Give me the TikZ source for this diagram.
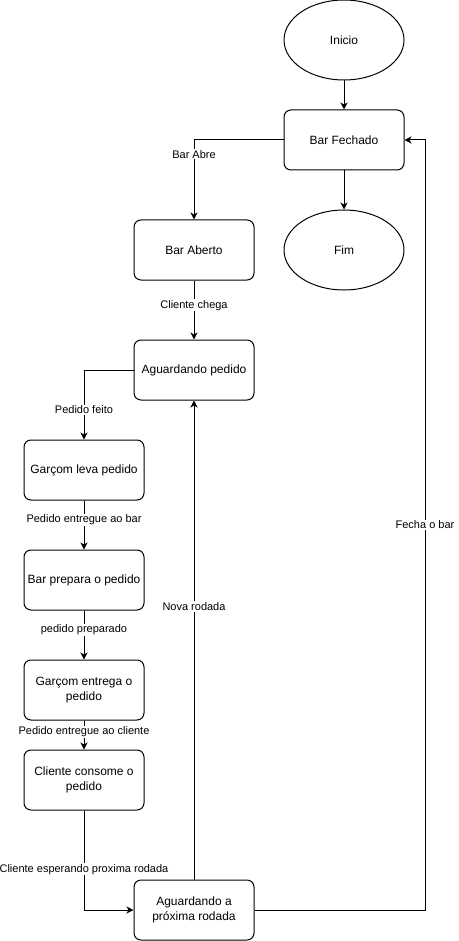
\documentclass[tikz,border=0pt]{standalone}
\usepackage{fontspec}
\setmainfont{Liberation Sans}
\usetikzlibrary{arrows.meta,shapes.geometric}
\begin{document}
\begin{tikzpicture}[x=1pt,y=-1pt,
  box/.style={draw,rounded corners=7pt,minimum width=120pt,minimum height=60pt,line width=1pt,align=center,font=\fontsize{12}{15}\selectfont,inner sep=0pt},
  oval/.style={draw,ellipse,minimum width=120pt,minimum height=80pt,line width=1pt,font=\fontsize{12}{15}\selectfont,inner sep=0pt},
  arr/.style={-{Stealth[length=7pt,width=7pt,inset=2pt]},line width=1pt},
  lbl/.style={fill=white,font=\fontsize{11}{13}\selectfont,inner sep=1pt}]
\useasboundingbox (0,0) rectangle (458,941);
\node[oval] (ini) at (344,40) {Inicio};
\node[box] (bf) at (344,140) {Bar Fechado};
\node[oval] (fim) at (344,250) {Fim};
\node[box] (ba) at (194,250) {Bar Aberto};
\node[box] (ap) at (194,370) {Aguardando pedido};
\node[box] (gl) at (84,470) {Garçom leva pedido};
\node[box] (bp) at (84,580) {Bar prepara o pedido};
\node[box] (ge) at (84,690) {Garçom entrega o\\pedido};
\node[box] (cc) at (84,780) {Cliente consome o\\pedido};
\node[box] (ar) at (194,910) {Aguardando a\\próxima rodada};
\coordinate (c1) at (425,910);
\coordinate (c2) at (425,140);

\draw[arr] (ini) -- (bf);
\draw[arr] (bf) -- (fim);
\draw[arr] (bf.west) -| node[lbl,pos=0.59] {Bar Abre} (ba.north);
\draw[arr] (ba) -- node[lbl,pos=0.42] {Cliente chega} (ap);
\draw[arr] (ap.west) -| node[lbl,pos=0.785] {Pedido feito} (gl.north);
\draw[arr] (gl) -- node[lbl,pos=0.4] {Pedido entregue ao bar} (bp);
\draw[arr] (bp) -- node[lbl,pos=0.4] {pedido preparado} (ge);
\draw[arr] (ge) -- node[lbl,pos=0.4] {Pedido entregue ao cliente} (cc);
\draw[arr] (cc.south) |- node[lbl,pos=0.295] {Cliente esperando proxima rodada} (ar.west);
\draw[arr] (ar.north) -- node[lbl,pos=0.57] {Nova rodada} (ap.south);
\draw[arr] (ar.east) -- (c1) -- node[lbl,pos=0.5] {Fecha o bar} (c2) -- (bf.east);
\end{tikzpicture}
\end{document}
